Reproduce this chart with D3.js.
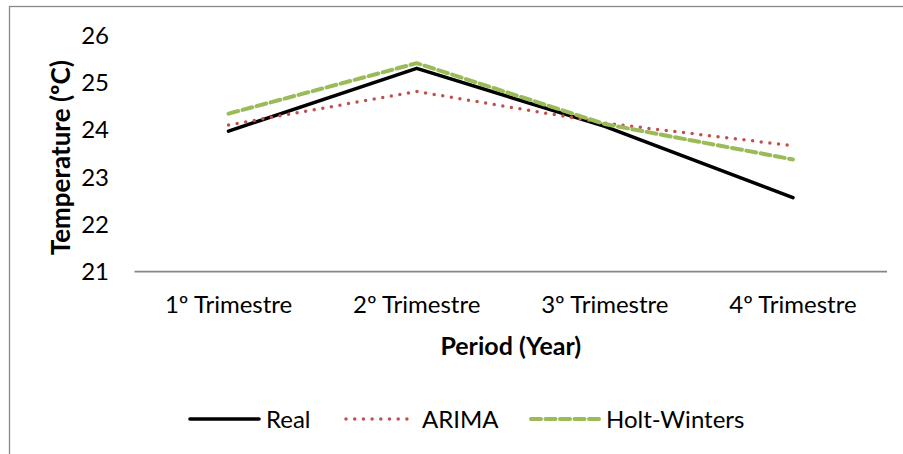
<!DOCTYPE html>
<html>
<head>
<meta charset="utf-8">
<script src="https://cdn.jsdelivr.net/npm/d3@7"></script>
<style>
  html, body { margin: 0; padding: 0; background: #fff; }
  svg { display: block; }
  text { font-family: Lato, "Open Sans", sans-serif; fill: #000; }
</style>
</head>
<body>
<svg id="chart" width="903" height="454"></svg>
<script>
const categories = ["1º Trimestre", "2º Trimestre", "3º Trimestre", "4º Trimestre"];
const realValues = [23.98, 25.31, 24.08, 22.57];
const arimaValues = [24.11, 24.82, 24.15, 23.67];
const holtWintersValues = [24.35, 25.42, 24.13, 23.38];
const yTicks = [21, 22, 23, 24, 25, 26];
const seriesNames = ["Real", "ARIMA", "Holt-Winters"];
const xTitle = "Period (Year)";
const yTitle = "Temperature (ºC)";

const series = [
  { name: seriesNames[0], values: realValues, color: "#000000", width: 3.6, dash: null, cap: "round" },
  { name: seriesNames[1], values: arimaValues, color: "#C0504D", width: 3.5, dash: "0,8.7", cap: "round" },
  { name: seriesNames[2], values: holtWintersValues, color: "#9BBB59", width: 4, dash: "10,4.5", cap: "round" }
];

const FS = 24;
const FS_TITLE = 25;

const svg = d3.select("#chart");

// outer frame
svg.append("rect")
  .attr("x", 9.5).attr("y", 6.5)
  .attr("width", 1000).attr("height", 1000)
  .attr("fill", "none").attr("stroke", "#898989").attr("stroke-width", 1.3);

const plot = { left: 134.5, right: 887, top: 35.8, bottom: 271.7 };

const x = d3.scaleBand().domain(categories).range([plot.left, plot.right]).padding(0);
const y = d3.scaleLinear().domain([21, 26]).range([plot.bottom, plot.top]);

// y axis labels (no axis line)
const yAxis = d3.axisLeft(y).tickValues(yTicks).tickSize(0).tickPadding(0).tickFormat(d3.format("d"));
const gy = svg.append("g").attr("transform", `translate(109,0)`).call(yAxis);
gy.select(".domain").remove();
gy.selectAll("text").attr("font-size", FS).attr("font-family", "Lato, sans-serif").attr("fill", "#000");

// x axis
const xAxis = d3.axisBottom(x).tickSize(0).tickPadding(0);
const gx = svg.append("g").attr("transform", `translate(0,${plot.bottom})`).call(xAxis);
gx.select(".domain").attr("stroke", "#868686").attr("stroke-width", 1.8).attr("d", `M${plot.left},0H${plot.right}`);
gx.selectAll("text").attr("font-size", FS).attr("font-family", "Lato, sans-serif").attr("fill", "#000")
  .attr("dy", null).attr("y", 41.5);

// lines
const line = d3.line()
  .x((d, i) => x(categories[i]) + x.bandwidth() / 2)
  .y(d => y(d));

series.forEach(s => {
  svg.append("path")
    .datum(s.values)
    .attr("d", line)
    .attr("fill", "none")
    .attr("stroke", s.color)
    .attr("stroke-width", s.width)
    .attr("stroke-linecap", s.cap)
    .attr("stroke-linejoin", "round")
    .attr("stroke-dasharray", s.dash);
});

// axis titles
svg.append("text")
  .attr("x", (plot.left + plot.right) / 2).attr("y", 355)
  .attr("text-anchor", "middle").attr("font-size", FS_TITLE).attr("font-weight", "bold")
  .text(xTitle);

svg.append("text")
  .attr("transform", `translate(70,${(plot.top + plot.bottom) / 2 + 4}) rotate(-90)`)
  .attr("text-anchor", "middle").attr("font-size", FS_TITLE + 1).attr("font-weight", "bold")
  .text(yTitle);

// legend
const legendItems = [
  { s: series[0], x0: 190, x1: 259, tx: 266 },
  { s: series[1], x0: 346, x1: 415, tx: 422 },
  { s: series[2], x0: 531, x1: 600, tx: 606 }
];
const legendY = 419;
legendItems.forEach(item => {
  svg.append("line")
    .attr("x1", item.x0).attr("x2", item.x1)
    .attr("y1", legendY).attr("y2", legendY)
    .attr("stroke", item.s.color)
    .attr("stroke-width", item.s.width)
    .attr("stroke-linecap", item.s.cap)
    .attr("stroke-dasharray", item.s.dash);
  svg.append("text")
    .attr("x", item.tx).attr("y", legendY + 8.5)
    .attr("font-size", FS)
    .text(item.s.name);
});
</script>
</body>
</html>
